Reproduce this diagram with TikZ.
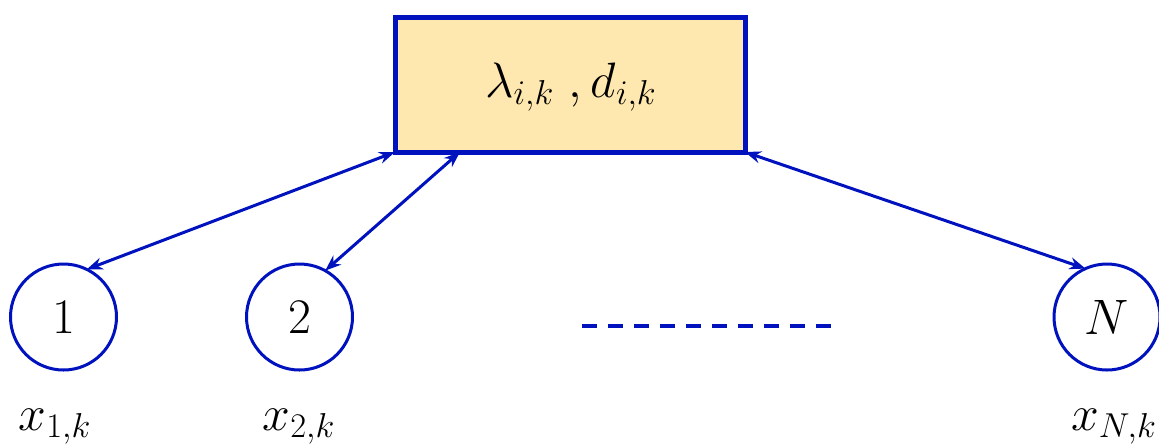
\documentclass[tikz,border=0pt]{standalone}
\usetikzlibrary{arrows.meta}
\definecolor{edgeblue}{RGB}{0,18,190}
\definecolor{boxfill}{HTML}{FFE8AF}
\begin{document}
\begin{tikzpicture}[x=0.5pt,y=-0.5pt,
  statebox/.style={draw=edgeblue,fill=boxfill,line width=2.5pt,minimum width=175pt,minimum height=67.5pt,inner sep=0pt,outer sep=0pt},
  agent/.style={circle,draw=edgeblue,line width=1.5pt,minimum size=53pt,inner sep=0pt,outer sep=0pt,font=\fontsize{26}{30}\selectfont},
  varlabel/.style={anchor=base,inner sep=0pt,font=\fontsize{24}{28}\selectfont},
  link/.style={draw=edgeblue,line width=1.5pt,{Stealth[length=8pt,width=6pt]}-{Stealth[length=8pt,width=6pt]}}
]
\useasboundingbox (0,0) rectangle (1159,446);

% shared quantities
\node[statebox] (box) at (570,84.5) {};
\node[anchor=base,inner sep=0pt,font=\fontsize{24}{28}\selectfont] (boxtext) at (571,97) {$\lambda_{i,k}\ ,d_{i,k}$};

% agents
\node[agent] (c1) at (63.5,317) {$1$};
\node[agent] (c2) at (299.5,317) {$2$};
\node[agent] (cN) at (1107,317) {$N$};

% agent states
\node[varlabel] (x1) at (55,430) {$x_{1,k}$};
\node[varlabel] (x2) at (299,430) {$x_{2,k}$};
\node[varlabel] (xN) at (1114,430) {$x_{N,k}$};

% ellipsis between agents
\coordinate (dotsL) at (582,326);
\coordinate (dotsR) at (831,326);
\draw[edgeblue,line width=2pt,dash pattern=on 7.5pt off 5.5pt] (dotsL) -- (dotsR);

% exchanges with the shared box
\coordinate (b2) at ([xshift=32.5pt]box.south west);
\draw[link] (box.south west) -- (c1.64);
\draw[link] (b2) -- (c2.61);
\draw[link] (box.south east) -- (cN.114);
\end{tikzpicture}
\end{document}
